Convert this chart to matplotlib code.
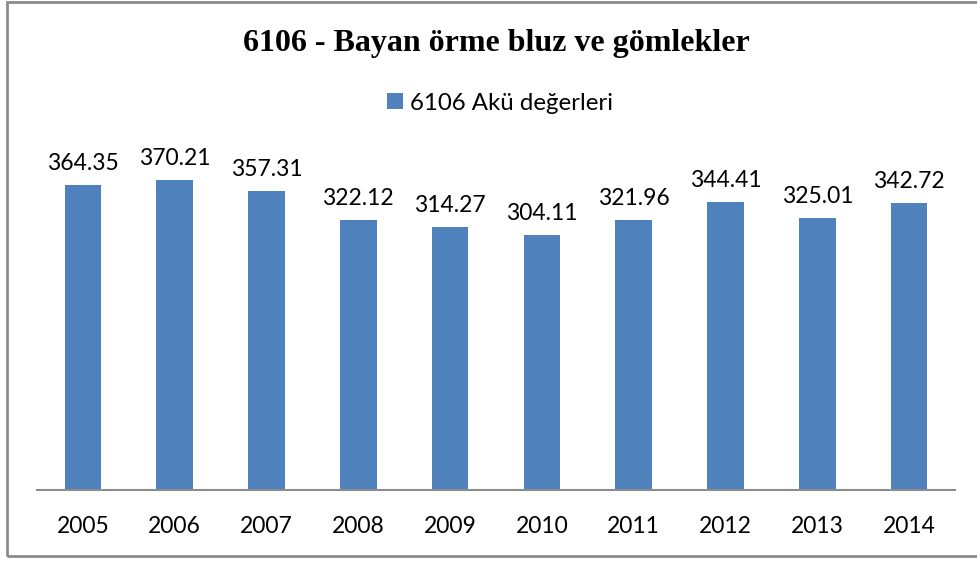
import matplotlib.pyplot as plt
from matplotlib.patches import Rectangle

years = ["2005", "2006", "2007", "2008", "2009", "2010", "2011", "2012", "2013", "2014"]
values = [364.35, 370.21, 357.31, 322.12, 314.27, 304.11, 321.96, 344.41, 325.01, 342.72]

BAR_COLOR = "#4F81BD"
LABEL_FONT = ["Lato", "DejaVu Sans"]

fig = plt.figure(figsize=(9.77, 5.61), dpi=100)
ax = fig.add_axes([37 / 977, 1 - 490 / 561, 918 / 977, 0.597])

x = range(len(years))
bars = ax.bar(x, values, width=0.40, color=BAR_COLOR, label="6106 Akü değerleri")
ax.bar_label(bars, labels=[f"{v:.2f}" for v in values], padding=8,
             fontsize=16.5, family=LABEL_FONT, color="black")

ax.set_xlim(-0.5, len(years) - 0.5)
ax.set_ylim(0, 400)
ax.set_xticks(list(x))
ax.set_xticklabels(years, fontsize=16.5, family=LABEL_FONT)
ax.tick_params(axis="x", length=0, pad=19)
ax.set_yticks([])
for side in ["top", "right", "left"]:
    ax.spines[side].set_visible(False)
ax.spines["bottom"].set_color("#8C8C8C")
ax.spines["bottom"].set_linewidth(1.5)

fig.text(496 / 977, 1 - 44 / 561, "6106 - Bayan örme bluz ve gömlekler",
         ha="center", va="center", fontsize=23, fontweight="bold",
         family=["Liberation Serif", "DejaVu Serif"])

fig.legend(loc="center", bbox_to_anchor=(500 / 977, 1 - 103 / 561), frameon=False,
           handlelength=0.65, handleheight=0.65, handletextpad=0.3,
           prop={"family": LABEL_FONT, "size": 17.3})

# chart frame
fig.patches.append(Rectangle((7 / 977, 5 / 561), 1.1, 554 / 561,
                             transform=fig.transFigure, fill=False,
                             edgecolor="#8C8C8C", linewidth=2))

fig.savefig("out.png", dpi=100)
